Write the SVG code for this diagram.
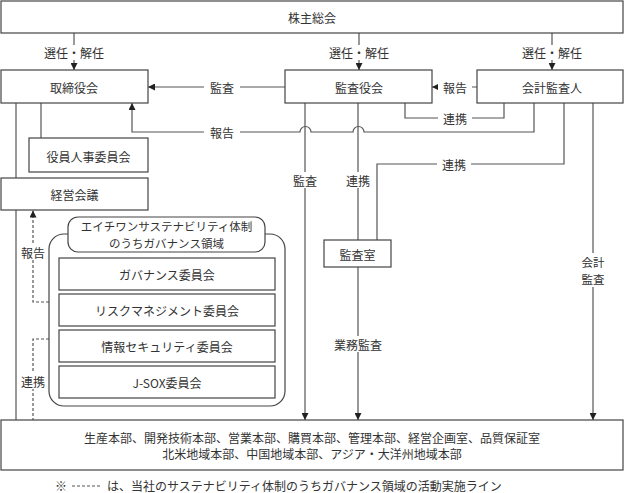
<svg xmlns="http://www.w3.org/2000/svg" width="625" height="493" viewBox="0 0 625 493">
<defs>
<style>
.box{fill:#fff;stroke:#444;stroke-width:1.2}
.ln{fill:none;stroke:#555;stroke-width:1.2}
.dl{fill:none;stroke:#555;stroke-width:1.2;stroke-dasharray:3 2}
.t{font-family:"Noto Sans CJK JP","Noto Sans",sans-serif;font-size:12px;fill:#333;text-anchor:middle;dominant-baseline:central}
.s{font-size:11.5px}
.bg{fill:#fff}
</style>
<marker id="ah" viewBox="0 0 10 10" refX="10" refY="5" markerWidth="7" markerHeight="7" markerUnits="userSpaceOnUse" orient="auto">
<path d="M0,0 L10,5 L0,10 z" fill="#222"/>
</marker>
</defs>
<rect width="625" height="493" fill="#fff"/>

<g id="connectors">
<line class="ln" x1="74" y1="33" x2="74" y2="70" marker-end="url(#ah)"/>
<line class="ln" x1="359" y1="33" x2="359" y2="70" marker-end="url(#ah)"/>
<line class="ln" x1="552" y1="33" x2="552" y2="70" marker-end="url(#ah)"/>
<line class="ln" x1="285" y1="87" x2="148" y2="87" marker-end="url(#ah)"/>
<line class="ln" x1="477" y1="87" x2="432" y2="87" marker-end="url(#ah)"/>
<path class="ln" d="M405,103 V118 H504 V103"/>
<path class="ln" d="M534,103 V132 H364 A5,5 0 0 0 353,132 H311 A5,5 0 0 0 300,132 H132 V103" marker-end="url(#ah)"/>
<line class="ln" x1="305" y1="103" x2="305" y2="420" marker-end="url(#ah)"/>
<line class="ln" x1="358" y1="103" x2="358" y2="240"/>
<line class="ln" x1="358" y1="267" x2="358" y2="420" marker-end="url(#ah)"/>
<path class="ln" d="M564,103 V164 H377 V240"/>
<line class="ln" x1="593" y1="103" x2="593" y2="420" marker-end="url(#ah)"/>
<line class="ln" x1="16" y1="103" x2="16" y2="420"/>
<line class="ln" x1="41" y1="103" x2="41" y2="138"/>
<path class="dl" d="M49,302 H33 V210.5" marker-end="url(#ah)"/>
<path class="dl" d="M49,339 H33 V420"/>

<rect class="bg" x="41" y="45" width="66" height="15"/>
<text class="t" x="74" y="52">選任・解任</text>
<rect class="bg" x="326" y="45" width="66" height="15"/>
<text class="t" x="359" y="52">選任・解任</text>
<rect class="bg" x="519" y="45" width="66" height="15"/>
<text class="t" x="552" y="52">選任・解任</text>
<rect class="bg" x="204" y="80" width="36" height="15"/>
<text class="t" x="222" y="87">監査</text>
<rect class="bg" x="438" y="80" width="34" height="15"/>
<text class="t" x="455" y="87">報告</text>
<rect class="bg" x="438" y="111" width="34" height="15"/>
<text class="t" x="455" y="118">連携</text>
<rect class="bg" x="204" y="125" width="36" height="15"/>
<text class="t" x="222" y="132">報告</text>
<rect class="bg" x="437" y="157" width="34" height="15"/>
<text class="t" x="454" y="164">連携</text>
<rect class="bg" x="292" y="172" width="26" height="16"/>
<text class="t" x="305" y="180">監査</text>
<rect class="bg" x="345" y="172" width="26" height="16"/>
<text class="t" x="358" y="180">連携</text>
<rect class="bg" x="333" y="336" width="50" height="16"/>
<text class="t" x="358" y="344">業務監査</text>
<rect class="bg" x="580" y="253" width="26" height="34"/>
<text class="t s" x="593" y="261.5">会計</text>
<text class="t s" x="593" y="278.5">監査</text>
<rect class="bg" x="20" y="244" width="26" height="16"/>
<text class="t" x="33" y="252">報告</text>
<rect class="bg" x="20" y="373" width="26" height="16"/>
<text class="t" x="33" y="381">連携</text>
</g>

<g id="kabunushi">
<rect class="box" x="1" y="1" width="622" height="32"/>
<text class="t" x="312" y="17">株主総会</text>
</g>
<g id="torishimariyaku">
<rect class="box" x="1" y="70" width="147" height="33"/>
<text class="t" x="74" y="87">取締役会</text>
</g>
<g id="kansayaku">
<rect class="box" x="285" y="70" width="147" height="33"/>
<text class="t" x="359" y="87">監査役会</text>
</g>
<g id="kaikei">
<rect class="box" x="477" y="70" width="146" height="33"/>
<text class="t" x="552" y="87">会計監査人</text>
</g>
<g id="yakuin">
<rect class="box" x="29" y="138" width="119" height="34"/>
<text class="t" x="88.5" y="156">役員人事委員会</text>
</g>
<g id="keiei">
<rect class="box" x="1" y="178" width="147" height="32"/>
<text class="t" x="74.5" y="194">経営会議</text>
</g>
<g id="kansashitsu">
<rect class="box" x="324" y="240" width="67" height="27"/>
<text class="t" x="357.5" y="254">監査室</text>
</g>
<g id="governance-area">
<rect class="box" x="49" y="234" width="236" height="172" rx="15"/>
<rect class="box" x="68" y="217" width="197" height="35" rx="10"/>
<text class="t s" x="166.5" y="226">エイチワンサステナビリティ体制</text>
<text class="t s" x="166.5" y="243">のうちガバナンス領域</text>
</g>
<g id="governance">
<rect class="box" x="59" y="258" width="216" height="32"/>
<text class="t" x="167" y="274">ガバナンス委員会</text>
</g>
<g id="risk">
<rect class="box" x="59" y="294" width="216" height="32"/>
<text class="t" x="167" y="310">リスクマネジメント委員会</text>
</g>
<g id="security">
<rect class="box" x="59" y="330" width="216" height="32"/>
<text class="t" x="167" y="346">情報セキュリティ委員会</text>
</g>
<g id="jsox">
<rect class="box" x="59" y="366" width="216" height="32"/>
<text class="t" x="167" y="382">J-SOX委員会</text>
</g>
<g id="departments">
<rect class="box" x="1" y="420" width="622" height="50"/>
<text class="t" x="312" y="437">生産本部、開発技術本部、営業本部、購買本部、管理本部、経営企画室、品質保証室</text>
<text class="t" x="312" y="453">北米地域本部、中国地域本部、アジア・大洋州地域本部</text>
</g>
<g id="footnote">
<text class="t" x="61" y="485">※</text>
<line class="dl" x1="72" y1="486" x2="102" y2="486"/>
<text class="t" x="107" y="485" style="text-anchor:start">は、当社のサステナビリティ体制のうちガバナンス領域の活動実施ライン</text>
</g>
</svg>
